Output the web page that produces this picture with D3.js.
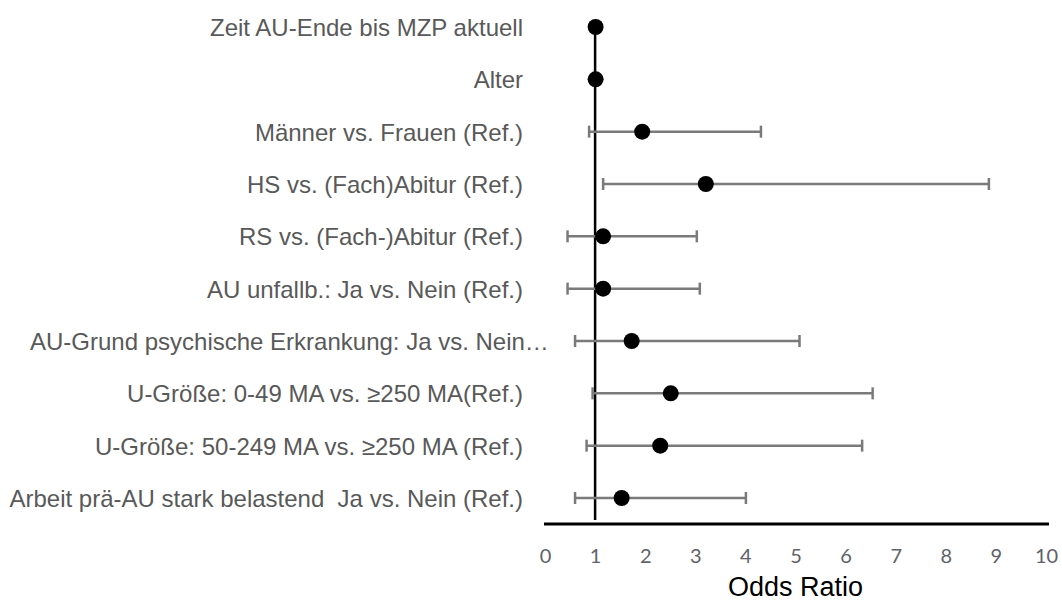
<!DOCTYPE html>
<html>
<head>
<meta charset="utf-8">
<script src="https://cdn.jsdelivr.net/npm/d3@7"></script>
<style>
  body { margin: 0; background: #fff; }
  svg { display: block; }
</style>
</head>
<body>
<svg id="chart" width="1062" height="601"></svg>
<script>
// rows, top to bottom
const labels = [
  "Zeit AU-Ende bis MZP aktuell",
  "Alter",
  "Männer vs. Frauen (Ref.)",
  "HS vs. (Fach)Abitur (Ref.)",
  "RS vs. (Fach-)Abitur (Ref.)",
  "AU unfallb.: Ja vs. Nein (Ref.)",
  "AU-Grund psychische Erkrankung: Ja vs. Nein…",
  "U-Größe: 0-49 MA vs. ≥250 MA(Ref.)",
  "U-Größe: 50-249 MA vs. ≥250 MA (Ref.)",
  "Arbeit prä-AU stark belastend  Ja vs. Nein (Ref.)"
];
const oddsRatio = [1.01, 1.01, 1.94, 3.21, 1.16, 1.16, 1.73, 2.51, 2.30, 1.53];
const ciLower   = [0.99, 0.99, 0.88, 1.16, 0.45, 0.45, 0.60, 0.95, 0.83, 0.60];
const ciUpper   = [1.02, 1.02, 4.31, 8.86, 3.03, 3.09, 5.08, 6.54, 6.33, 4.01];
const xTicks = [0, 1, 2, 3, 4, 5, 6, 7, 8, 9, 10];

const svg = d3.select("#chart");

const x = d3.scaleLinear().domain([0, 10]).range([545, 1046]);
const y = d3.scalePoint().domain(labels).range([27, 498]);
const axisY = 524;

const rows = labels.map((l, i) => ({
  label: l, or: oddsRatio[i], lo: ciLower[i], hi: ciUpper[i]
}));

// reference line at OR = 1
svg.append("line")
  .attr("x1", x(1)).attr("x2", x(1))
  .attr("y1", y(labels[0])).attr("y2", axisY - 4)
  .attr("stroke", "#000").attr("stroke-width", 2.5);

// axis
const xAxis = d3.axisBottom(x).tickValues(xTicks).tickSize(0).tickSizeOuter(0);
const gx = svg.append("g").attr("transform", "translate(0," + axisY + ")").call(xAxis);
gx.select(".domain").attr("stroke", "#000").attr("stroke-width", 3)
  .attr("d", "M" + (x(0) - 1) + ",0H" + (x(10) + 3));
gx.selectAll(".tick text")
  .attr("y", 39).attr("dy", 0)
  .attr("fill", "#5f6268")
  .style("font-family", "Lato, 'Open Sans', sans-serif")
  .style("font-size", "20px");

svg.append("text")
  .attr("x", x(5)).attr("y", 596)
  .attr("text-anchor", "middle")
  .style("font-family", "'Liberation Sans', Arial, sans-serif")
  .style("font-size", "27px")
  .attr("fill", "#000")
  .text("Odds Ratio");

// error bars
const bars = svg.append("g").selectAll("g").data(rows).enter().append("g")
  .attr("stroke", "#7a7a7a").attr("stroke-width", 2.5);
bars.append("line")
  .attr("x1", d => x(d.lo)).attr("x2", d => x(d.hi))
  .attr("y1", d => y(d.label)).attr("y2", d => y(d.label));
bars.append("line")
  .attr("x1", d => x(d.lo)).attr("x2", d => x(d.lo))
  .attr("y1", d => y(d.label) - 6).attr("y2", d => y(d.label) + 6);
bars.append("line")
  .attr("x1", d => x(d.hi)).attr("x2", d => x(d.hi))
  .attr("y1", d => y(d.label) - 6).attr("y2", d => y(d.label) + 6);

// points
svg.append("g").selectAll("circle").data(rows).enter().append("circle")
  .attr("cx", d => x(d.or)).attr("cy", d => y(d.label))
  .attr("r", 8).attr("fill", "#000");

// row labels, right aligned; a truncated label (ending in …) starts at the left edge
const labelRight = 523, labelLeft = 30;
svg.append("g").selectAll("text").data(rows).enter().append("text")
  .attr("y", d => y(d.label) + 9)
  .attr("x", d => d.label.endsWith("…") ? labelLeft : labelRight)
  .attr("text-anchor", d => d.label.endsWith("…") ? "start" : "end")
  .attr("fill", "#595959")
  .style("font-family", "'Liberation Sans', Arial, sans-serif")
  .style("font-size", "24px")
  .style("white-space", "pre")
  .text(d => d.label);
</script>
</body>
</html>
